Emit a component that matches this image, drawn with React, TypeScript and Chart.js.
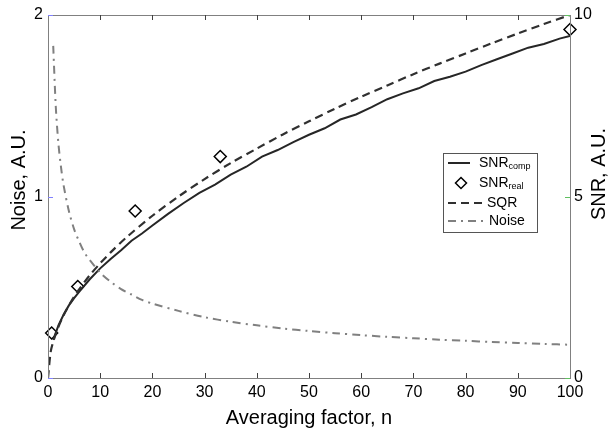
import React, { useEffect, useRef } from "react";
import { Chart, registerables } from "chart.js";
Chart.register(...registerables);

// ---- data ----
const snrCompN = [1, 2, 3, 4, 5, 6, 8, 10, 12, 14, 16, 18, 20, 23, 26, 29, 32, 35, 38, 41, 44, 47, 50, 53, 56, 59, 62, 65, 68, 71, 74, 77, 80, 83, 86, 89, 92, 95, 98, 100];
const snrCompValues = [1.05, 1.45, 1.75, 2.0, 2.2, 2.38, 2.72, 3.02, 3.28, 3.52, 3.78, 3.98, 4.2, 4.52, 4.82, 5.1, 5.33, 5.6, 5.82, 6.1, 6.28, 6.5, 6.7, 6.88, 7.12, 7.26, 7.46, 7.68, 7.84, 7.98, 8.18, 8.3, 8.44, 8.62, 8.78, 8.94, 9.1, 9.2, 9.35, 9.42];

const snrRealN = [0.7, 5.7, 16.7, 33, 100];
const snrRealValues = [1.24, 2.52, 4.6, 6.1, 9.6];

const sqrN = [0, 0.5, 1, 2, 3, 4, 5, 6, 8, 10, 12, 15, 20, 25, 30, 35, 40, 45, 50, 55, 60, 65, 70, 75, 80, 85, 90, 95, 100];
const sqrValues = [0, 0.71, 1, 1.41, 1.73, 2, 2.24, 2.45, 2.83, 3.16, 3.46, 3.87, 4.47, 5, 5.48, 5.92, 6.32, 6.71, 7.07, 7.42, 7.75, 8.06, 8.37, 8.66, 8.94, 9.22, 9.49, 9.75, 10];

const noiseN = [1, 1.5, 2, 2.5, 3, 4, 5, 6, 7, 8, 10, 12, 14, 16, 18, 20, 25, 30, 35, 40, 45, 50, 55, 60, 65, 70, 75, 80, 85, 90, 95, 100];
const noiseValues = [1.83, 1.49, 1.29, 1.16, 1.06, 0.92, 0.82, 0.75, 0.69, 0.65, 0.58, 0.53, 0.49, 0.46, 0.43, 0.41, 0.37, 0.335, 0.31, 0.29, 0.273, 0.259, 0.247, 0.236, 0.227, 0.219, 0.211, 0.205, 0.198, 0.193, 0.188, 0.183];

const xTicks = [0, 10, 20, 30, 40, 50, 60, 70, 80, 90, 100];
const noiseTicks = [0, 1, 2];
const snrTicks = [0, 5, 10];

const xTitle = "Averaging factor, n";
const leftTitle = "Noise, A.U.";
const rightTitle = "SNR, A.U.";

const FONT = '"Liberation Sans", Arial, sans-serif';

const pts = (xs: number[], ys: number[]) => xs.map((x, i) => ({ x, y: ys[i] }));

const overlay = {
  id: "overlay",
  afterDraw(chart: any) {
    const { ctx, chartArea: a, scales } = chart;
    const xs = scales.x, yl = scales.y, yr = scales.y1;
    ctx.save();
    // frame
    ctx.strokeStyle = "#808080";
    ctx.lineWidth = 1;
    ctx.strokeRect(Math.round(a.left) + 0.5, Math.round(a.top) + 0.5, Math.round(a.right - a.left), Math.round(a.bottom - a.top));
    // x ticks (inward, bottom and top)
    ctx.strokeStyle = "#404040";
    xTicks.forEach((v) => {
      if (v === 0 || v === 100) return;
      const px = Math.round(xs.getPixelForValue(v)) + 0.5;
      ctx.beginPath();
      ctx.moveTo(px, a.bottom);
      ctx.lineTo(px, a.bottom - 5);
      ctx.moveTo(px, a.top);
      ctx.lineTo(px, a.top + 5);
      ctx.stroke();
    });
    // left ticks
    ctx.strokeStyle = "#8080ff";
    noiseTicks.forEach((v) => {
      const py = Math.round(yl.getPixelForValue(v)) + 0.5;
      ctx.beginPath();
      ctx.moveTo(a.left, py);
      ctx.lineTo(a.left + 5, py);
      ctx.stroke();
    });
    // right ticks
    ctx.strokeStyle = "#60c060";
    snrTicks.forEach((v) => {
      const py = Math.round(yr.getPixelForValue(v)) + 0.5;
      ctx.beginPath();
      ctx.moveTo(a.right, py);
      ctx.lineTo(a.right - 5, py);
      ctx.stroke();
    });
    // titles
    ctx.fillStyle = "#000";
    ctx.font = `20px ${FONT}`;
    ctx.textAlign = "center";
    ctx.textBaseline = "middle";
    ctx.fillText(xTitle, (a.left + a.right) / 2, 418);
    ctx.save();
    ctx.translate(19, 180);
    ctx.rotate(-Math.PI / 2);
    ctx.fillText(leftTitle, 0, 0);
    ctx.restore();
    ctx.save();
    ctx.translate(599, 174);
    ctx.rotate(-Math.PI / 2);
    ctx.fillText(rightTitle, 0, 0);
    ctx.restore();

    // legend
    const bx = 443, by = 153, bw = 94, bh = 79;
    ctx.fillStyle = "#fff";
    ctx.fillRect(bx, by, bw, bh);
    ctx.strokeStyle = "#555";
    ctx.lineWidth = 1;
    ctx.strokeRect(bx + 0.5, by + 0.5, bw, bh);
    const rows = [163, 183, 203, 221];
    const sub = (main: string, s: string, x: number, y: number) => {
      ctx.fillStyle = "#000";
      ctx.textAlign = "left";
      ctx.textBaseline = "middle";
      ctx.font = `14px ${FONT}`;
      ctx.fillText(main, x, y);
      const w = ctx.measureText(main).width;
      if (s) {
        ctx.font = `9px ${FONT}`;
        ctx.fillText(s, x + w, y + 4);
      }
    };
    // row 1 solid
    ctx.strokeStyle = "#262626";
    ctx.lineWidth = 2;
    ctx.setLineDash([]);
    ctx.beginPath();
    ctx.moveTo(448, rows[0]);
    ctx.lineTo(470, rows[0]);
    ctx.stroke();
    sub("SNR", "comp", 479, rows[0]);
    // row 2 diamond
    ctx.strokeStyle = "#000";
    ctx.lineWidth = 1.5;
    ctx.beginPath();
    const dx = 461, dy = rows[1], r = 5.5;
    ctx.moveTo(dx, dy - r);
    ctx.lineTo(dx + r, dy);
    ctx.lineTo(dx, dy + r);
    ctx.lineTo(dx - r, dy);
    ctx.closePath();
    ctx.fillStyle = "#fff";
    ctx.fill();
    ctx.stroke();
    sub("SNR", "real", 479, rows[1]);
    // row 3 dashed
    ctx.strokeStyle = "#303030";
    ctx.lineWidth = 2.2;
    ctx.setLineDash([8, 5]);
    ctx.beginPath();
    ctx.moveTo(448, rows[2]);
    ctx.lineTo(485, rows[2]);
    ctx.stroke();
    sub("SQR", "", 487, rows[2]);
    // row 4 dash-dot
    ctx.strokeStyle = "#808080";
    ctx.lineWidth = 2;
    ctx.setLineDash([8, 5, 2, 5]);
    ctx.beginPath();
    ctx.moveTo(448, rows[3]);
    ctx.lineTo(486, rows[3]);
    ctx.stroke();
    ctx.setLineDash([]);
    sub("Noise", "", 489, rows[3]);
    ctx.restore();
  },
};

export default function App() {
  const ref = useRef<HTMLCanvasElement>(null);
  useEffect(() => {
    document.body.style.margin = "0";
    const chart = new Chart(ref.current!, {
      type: "scatter",
      data: {
        datasets: [
          {
            label: "Noise",
            data: pts(noiseN, noiseValues),
            yAxisID: "y",
            showLine: true,
            pointRadius: 0,
            borderColor: "#808080",
            borderWidth: 2,
            borderDash: [8, 5, 2, 5],
            tension: 0.3,
          },
          {
            label: "SQR",
            data: pts(sqrN, sqrValues),
            yAxisID: "y1",
            showLine: true,
            pointRadius: 0,
            borderColor: "#303030",
            borderWidth: 2.2,
            borderDash: [8, 5],
            tension: 0.3,
          },
          {
            label: "SNRcomp",
            data: pts(snrCompN, snrCompValues),
            yAxisID: "y1",
            showLine: true,
            pointRadius: 0,
            borderColor: "#262626",
            borderWidth: 2,
            tension: 0,
          },
          {
            label: "SNRreal",
            data: pts(snrRealN, snrRealValues),
            yAxisID: "y1",
            showLine: false,
            pointStyle: "rectRot",
            pointRadius: 6,
            pointBorderWidth: 1.5,
            pointBorderColor: "#000",
            pointBackgroundColor: "#fff",
            clip: false as any,
          },
        ],
      },
      options: {
        responsive: false,
        animation: false,
        layout: { padding: { top: 15, left: 0, right: 0, bottom: 0 } },
        plugins: { legend: { display: false }, tooltip: { enabled: false }, title: { display: false } },
        scales: {
          x: {
            type: "linear",
            position: "bottom",
            min: 0,
            max: 100,
            afterFit: (s: any) => { s.height = 54; },
            afterBuildTicks: (s: any) => { s.ticks = xTicks.map((v) => ({ value: v })); },
            grid: { display: false, drawTicks: false },
            border: { display: false },
            ticks: { color: "#000", font: { size: 16, family: FONT }, padding: 5, maxRotation: 0, autoSkip: false },
          },
          y: {
            type: "linear",
            position: "left",
            min: 0,
            max: 2,
            afterFit: (s: any) => { s.width = 48; },
            afterBuildTicks: (s: any) => { s.ticks = noiseTicks.map((v) => ({ value: v })); },
            grid: { display: false, drawTicks: false },
            border: { display: false },
            ticks: { color: "#000", font: { size: 16, family: FONT }, padding: 5, autoSkip: false },
          },
          y1: {
            type: "linear",
            position: "right",
            min: 0,
            max: 10,
            afterFit: (s: any) => { s.width = 39; },
            afterBuildTicks: (s: any) => { s.ticks = snrTicks.map((v) => ({ value: v })); },
            grid: { display: false, drawTicks: false },
            border: { display: false },
            ticks: { color: "#000", font: { size: 16, family: FONT }, padding: 4, autoSkip: false },
          },
        },
      },
      plugins: [overlay],
    });
    return () => chart.destroy();
  }, []);
  return (
    <div style={{ width: 609, height: 432 }}>
      <canvas ref={ref} width={609} height={432} style={{ width: 609, height: 432, display: "block" }} />
    </div>
  );
}
